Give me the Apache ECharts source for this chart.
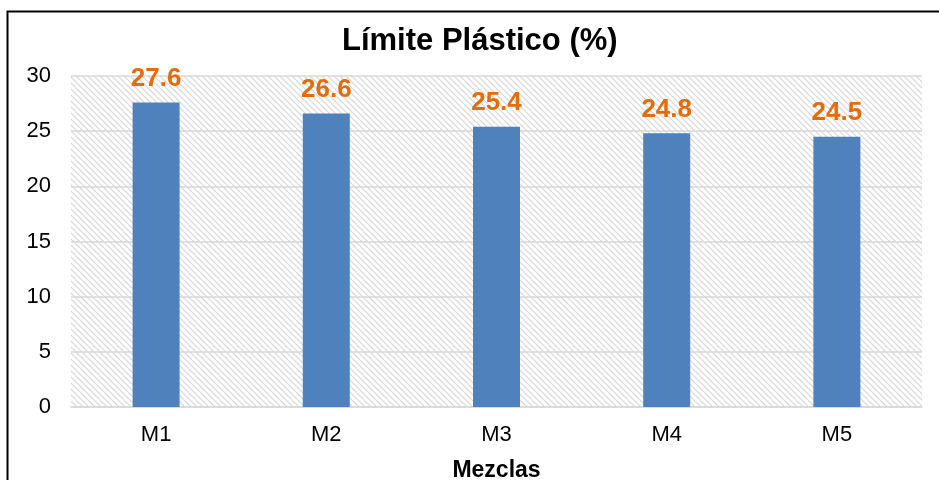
<!DOCTYPE html>
<html>
<head>
<meta charset="utf-8">
<script src="https://cdn.jsdelivr.net/npm/echarts@6/dist/echarts.min.js"></script>
<style>
  html, body { margin: 0; padding: 0; background: #fff; }
  #chart { width: 939px; height: 480px; }
</style>
</head>
<body>
<div id="chart"></div>
<script>
const categories = ['M1', 'M2', 'M3', 'M4', 'M5'];
const values = [27.6, 26.6, 25.4, 24.8, 24.5];

// hatched background like the original plot area
function hatchPattern() {
  const c = document.createElement('canvas');
  c.width = 6; c.height = 6;
  const ctx = c.getContext('2d');
  ctx.strokeStyle = '#d6d6d6';
  ctx.lineWidth = 1.2;
  ctx.beginPath();
  ctx.moveTo(-1, -1); ctx.lineTo(7, 7);
  ctx.moveTo(-4, 2); ctx.lineTo(2, 8);
  ctx.moveTo(2, -4); ctx.lineTo(8, 2);
  ctx.stroke();
  return { image: c, repeat: 'repeat' };
}

const chart = echarts.init(document.getElementById('chart'));
chart.setOption({
  animation: false,
  title: {
    text: 'Límite Plástico (%)',
    left: 337,
    top: 21,
    textStyle: { fontFamily: 'Arial', fontSize: 31, fontWeight: 'bold', color: '#000' }
  },
  graphic: [{
    type: 'rect',
    shape: { x: 7.5, y: 11.5, width: 940, height: 480 },
    style: { fill: 'none', stroke: '#000', lineWidth: 2 },
    silent: true
  }],
  grid: {
    left: 71, right: 17, top: 76, bottom: 73,
    outerBoundsMode: 'none',
    containLabel: false,
    show: true,
    borderWidth: 0,
    backgroundColor: hatchPattern()
  },
  xAxis: {
    type: 'category',
    data: categories,
    name: 'Mezclas',
    nameLocation: 'middle',
    nameGap: 52,
    nameTextStyle: { fontFamily: 'Arial', fontSize: 23, fontWeight: 'bold', color: '#000' },
    axisTick: { show: false },
    axisLine: { lineStyle: { color: '#d9d9d9', width: 1.5 } },
    axisLabel: { fontFamily: 'Arial', fontSize: 22, color: '#000', margin: 17 }
  },
  yAxis: {
    type: 'value',
    min: 0, max: 30, interval: 5,
    axisLine: { show: false },
    axisTick: { show: false },
    axisLabel: { fontFamily: 'Arial', fontSize: 22, color: '#000', margin: 20 },
    splitLine: { lineStyle: { color: '#d9d9d9', width: 1.5 } }
  },
  series: [{
    type: 'bar',
    data: values,
    barWidth: 47,
    itemStyle: { color: '#4F81BD' },
    label: {
      show: true,
      position: 'top',
      distance: 11,
      fontFamily: 'Arial',
      fontSize: 26,
      fontWeight: 'bold',
      color: '#E46C0A'
    }
  }]
});
</script>
</body>
</html>
